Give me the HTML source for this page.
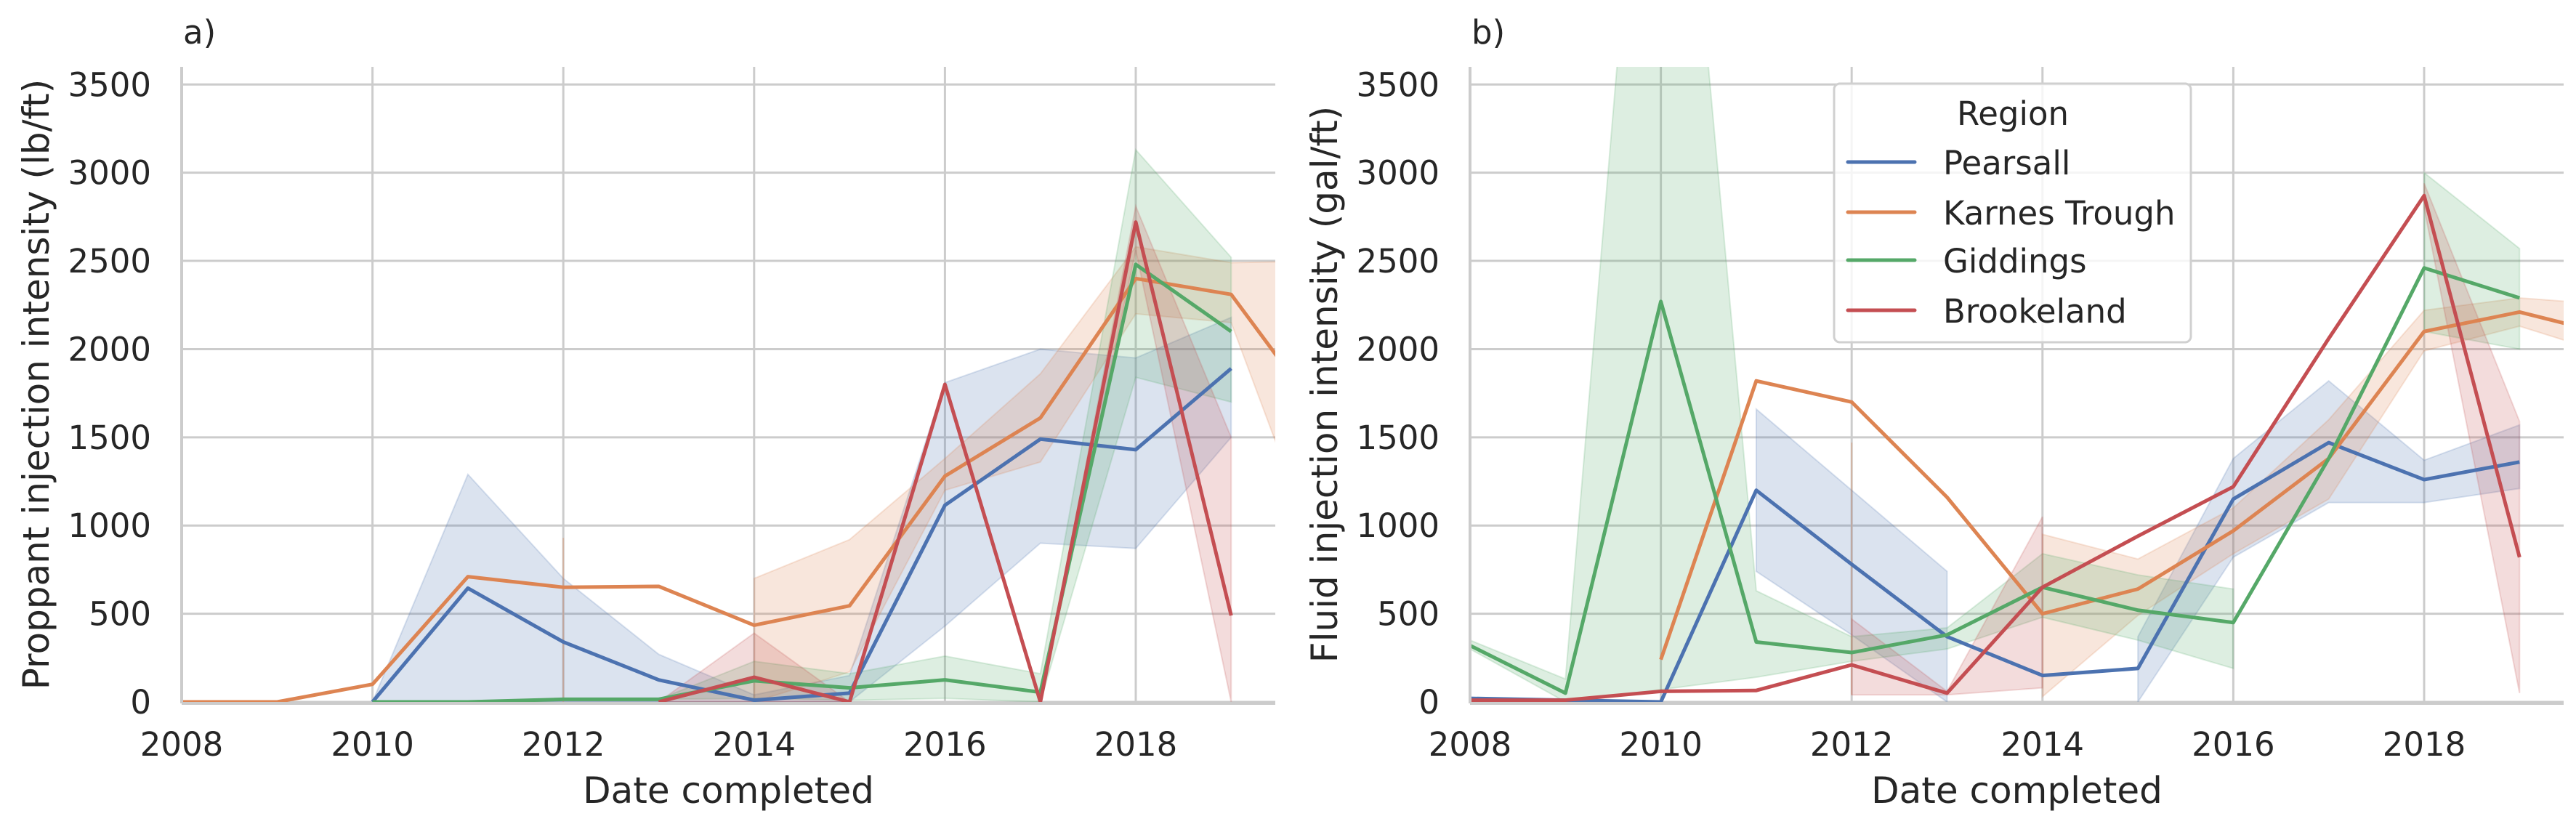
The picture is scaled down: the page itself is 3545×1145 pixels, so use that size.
<!DOCTYPE html>
<html><head><meta charset="utf-8"><style>
html,body{margin:0;padding:0;background:#fff;}
svg{display:block;font-family:"DejaVu Sans","Liberation Sans",sans-serif;}
</style></head><body>
<svg id="chart" width="3545" height="1145" viewBox="0 0 3545 1145" xmlns="http://www.w3.org/2000/svg"></svg>
<script>
const years = [2008,2009,2010,2011,2012,2013,2014,2015,2016,2017,2018,2019,2020];
const xTicks = [2008,2010,2012,2014,2016,2018];
const yTicks = [0,500,1000,1500,2000,2500,3000,3500];
const regionNames = ["Pearsall","Karnes Trough","Giddings","Brookeland"];
const N = null;
// Panel a: proppant (lb/ft)
const aPearsallMean = [N,N,0,645,340,125,10,50,1115,1490,1430,1890,N];
const aPearsallLo   = [N,N,0,0,0,0,0,0,430,900,870,1500,N];
const aPearsallHi   = [N,N,0,1290,700,270,40,150,1810,2000,1950,2180,N];
const aKarnesMean = [0,0,100,710,650,655,435,545,1280,1610,2400,2310,1580];
const aKarnesLo   = [N,N,N,N,0,N,0,170,1200,1360,2200,2150,700];
const aKarnesHi   = [N,N,N,N,930,N,700,920,1380,1860,2580,2490,2500];
const aGiddingsMean = [N,N,0,0,15,15,120,80,125,55,2480,2100,N];
const aGiddingsLo   = [N,N,0,0,15,15,20,10,20,0,1840,1700,N];
const aGiddingsHi   = [N,N,0,0,15,15,230,160,260,160,3130,2520,N];
const aBrookMean = [N,N,N,N,N,0,140,0,1800,0,2720,490,N];
const aBrookLo   = [N,N,N,N,N,0,0,0,1800,0,2560,0,N];
const aBrookHi   = [N,N,N,N,N,0,390,0,1800,0,2810,1500,N];
// Panel b: fluid (gal/ft)
const bPearsallMean = [20,10,0,1200,780,370,150,190,1150,1470,1260,1360,N];
const bPearsallLo   = [N,N,N,740,380,0,N,0,820,1130,1130,1210,N];
const bPearsallHi   = [N,N,N,1660,1200,740,N,370,1380,1820,1370,1570,N];
const bKarnesMean = [N,N,240,1820,1700,1160,500,640,970,1380,2100,2210,2075];
const bKarnesLo   = [N,N,N,N,40,N,30,490,840,1150,1990,2130,1960];
const bKarnesHi   = [N,N,N,N,1470,N,950,810,1100,1600,2220,2290,2250];
const bGiddingsMean = [320,50,2270,340,280,380,650,520,450,1380,2460,2290,N];
const bGiddingsLo   = [300,0,70,140,230,300,480,350,190,N,2100,2000,N];
const bGiddingsHi   = [350,130,6556,630,370,420,840,720,640,N,3000,2570,N];
const bBrookMean = [10,10,60,65,210,50,650,940,1220,2060,2870,820,N];
const bBrookLo   = [N,N,N,N,40,40,80,N,N,N,2800,50,N];
const bBrookHi   = [N,N,N,N,470,60,1050,N,N,N,2940,1590,N];

const colors = ["#4c72b0","#dd8452","#55a868","#c44e52"];
const svg = document.getElementById('chart');
const NS = "http://www.w3.org/2000/svg";
function mk(tag, attrs, parent){const e=document.createElementNS(NS,tag);for(const k in attrs)e.setAttribute(k,attrs[k]);(parent||svg).appendChild(e);return e;}

const panels = [
 {x0:250, x1:1755, label:"a)", ylab:"Proppant injection intensity (lb/ft)", ylx:52, key:"a",
  series:[[aPearsallMean,aPearsallLo,aPearsallHi],[aKarnesMean,aKarnesLo,aKarnesHi],[aGiddingsMean,aGiddingsLo,aGiddingsHi],[aBrookMean,aBrookLo,aBrookHi]]},
 {x0:2023, x1:3528, label:"b)", ylab:"Fluid injection intensity (gal/ft)", ylx:1825, key:"b",
  series:[[bPearsallMean,bPearsallLo,bPearsallHi],[bKarnesMean,bKarnesLo,bKarnesHi],[bGiddingsMean,bGiddingsLo,bGiddingsHi],[bBrookMean,bBrookLo,bBrookHi]]}
];
const yTop=92, yBot=966, yMax=3600, yrW=131.3;

panels.forEach((p,pi)=>{
  const X=v=>p.x0+(v-2008)*yrW;
  const Y=v=>yBot-v*(yBot-yTop)/yMax;
  const g=mk('g',{});
  
  
  const defs=mk('defs',{},g);
  const cp=mk('clipPath',{id:'clip'+pi},defs);
  mk('rect',{x:p.x0,y:yTop,width:p.x1-p.x0,height:yBot-yTop+3},cp);
  // grid
  yTicks.forEach(t=>{
    const l=mk('line',{x1:p.x0,x2:p.x1,y1:Y(t),y2:Y(t),stroke:"#cccccc","stroke-width":3},g);
    
    
    const tx=mk('text',{x:p.x0-42,y:Y(t)+16,"text-anchor":"end","font-size":45,fill:"#262626"},g);
    tx.textContent=t;
    
    
  });
  xTicks.forEach(t=>{
    const l=mk('line',{x1:X(t),x2:X(t),y1:yTop,y2:yBot,stroke:"#cccccc","stroke-width":3},g);
    
    
    const tx=mk('text',{x:X(t),y:1040,"text-anchor":"middle","font-size":45,fill:"#262626"},g);
    tx.textContent=t;
    
    
  });
  const cg=mk('g',{"clip-path":"url(#clip"+pi+")"},g);
  p.series.forEach((s,si)=>{
    const [m,lo,hi]=s;
    // bands
    let seg=[];
    const flush=()=>{
      if(seg.length===1){
        const i=seg[0];
        const l=mk('line',{x1:X(years[i]),x2:X(years[i]),y1:Y(lo[i]),y2:Y(hi[i]),stroke:colors[si],"stroke-opacity":0.35,"stroke-width":2},cg);
        
        
      } else if(seg.length>1){
        let d=seg.map((i,k)=>(k?'L':'M')+X(years[i])+','+Y(hi[i])).join('');
        d+=seg.slice().reverse().map(i=>'L'+X(years[i])+','+Y(lo[i])).join('')+'Z';
        const pa=mk('path',{d:d,fill:colors[si],"fill-opacity":0.2,stroke:colors[si],"stroke-opacity":0.2,"stroke-width":2},cg);
        
        
      }
      seg=[];
    };
    years.forEach((y,i)=>{ if(lo[i]!==null&&hi[i]!==null) seg.push(i); else flush(); });
    flush();
  });
  p.series.forEach((s,si)=>{
    const m=s[0];
    let d='';let started=false;
    years.forEach((y,i)=>{ if(m[i]===null){started=false;return;} d+=(started?'L':'M')+X(y)+','+Y(m[i]); started=true; });
    const pa=mk('path',{d:d,fill:"none",stroke:colors[si],"stroke-width":5,"stroke-linejoin":"round"},cg);
    
    
  });
  // spines
  const sl=mk('line',{x1:p.x0,x2:p.x0,y1:yTop,y2:yBot+2,stroke:"#cccccc","stroke-width":4},g);
  
  
  const sb=mk('line',{x1:p.x0,x2:p.x1,y1:yBot+2,y2:yBot+2,stroke:"#cccccc","stroke-width":4},g);
  
  
  const tt=mk('text',{x:p.x0+2,y:60,"font-size":45,fill:"#262626"},g);
  tt.textContent=p.label;
  
  
  const xl=mk('text',{x:(p.x0+p.x1)/2,y:1105,"text-anchor":"middle","font-size":50,fill:"#262626"},g);
  xl.textContent="Date completed";
  
  
  const yl=mk('text',{x:0,y:0,"text-anchor":"middle","font-size":50,fill:"#262626",transform:"translate("+(p.ylx+15)+","+((yTop+yBot)/2)+") rotate(-90)"},g);
  yl.textContent=p.ylab;
  
  
});

// legend
const lg=mk('g',{});


mk('rect',{x:2524,y:115,width:491,height:356,rx:8,fill:"#ffffff","fill-opacity":0.8,stroke:"#d0d0d0","stroke-width":3},lg);
const lt=mk('text',{x:2770,y:172,"text-anchor":"middle","font-size":45,fill:"#262626"},lg);
lt.textContent="Region";


const ly=[223,292,358,427];
regionNames.forEach((n,i)=>{
  const e=mk('g',{},lg);
  
  
  mk('line',{x1:2543,x2:2635,y1:ly[i],y2:ly[i],stroke:colors[i],"stroke-width":5,"stroke-linecap":"round"},e);
  const t=mk('text',{x:2674,y:ly[i]+17,"font-size":45,fill:"#262626"},e);
  t.textContent=n;
});
</script>
</body></html>
